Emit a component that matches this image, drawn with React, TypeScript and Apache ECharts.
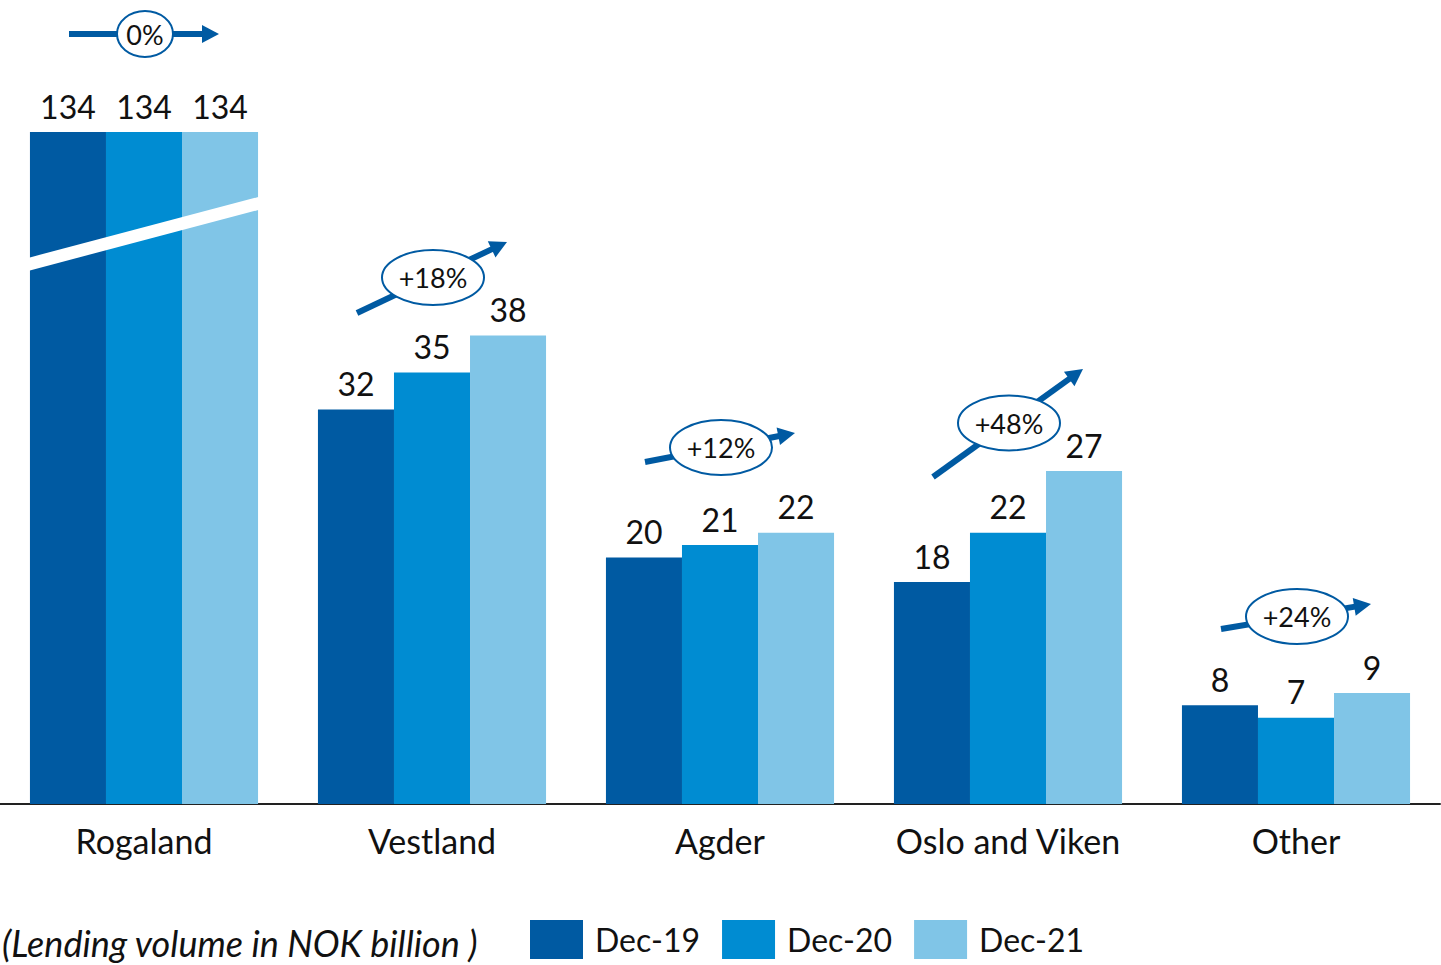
import { useEffect, useRef } from 'react';
import * as echarts from 'echarts';

// Lending volume per region (NOK billion)
const categories = ['Rogaland', 'Vestland', 'Agder', 'Oslo and Viken', 'Other'];
const seriesNames = ['Dec-19', 'Dec-20', 'Dec-21'];
const dec19 = [134, 32, 20, 18, 8];
const dec20 = [134, 35, 21, 22, 7];
const dec21 = [134, 38, 22, 27, 9];
const growthLabels = ['0%', '+18%', '+12%', '+48%', '+24%'];

// Value axis is cut between these values so the Rogaland bars fit
const BREAK_START = 46;
const BREAK_END = 126;
const BREAK_GAP = 0.5;

const COLORS = ['#005AA2', '#008CD2', '#80C5E7'];
const ARROW = '#005AA2';
const TEXT = '#111111';
const FONT = 'Lato, "Noto Sans", sans-serif';

// Growth-arrow layout: vertical centre and rise of each arrow, in pixels
const annotY = [34, 277.5, 447.5, 423, 616.5];
const annotRise = [0, 71, 29, 108, 25];

export default function App() {
  const ref = useRef<HTMLDivElement>(null);

  useEffect(() => {
    document.body.style.margin = '0';
    const chart = echarts.init(ref.current!, null, { renderer: 'svg' });

    const mkSeries = (name: string, data: number[], color: string) => ({
      type: 'bar',
      name,
      data,
      barGap: '0%',
      barCategoryGap: '20.8%',
      itemStyle: { color },
      label: {
        show: true,
        position: 'top',
        distance: 10,
        fontSize: 32,
        fontFamily: FONT,
        color: TEXT,
      },
    });

    chart.setOption({
      animation: false,
      grid: { left: 0, right: 1, top: 132, bottom: 161, containLabel: false },
      xAxis: {
        type: 'category',
        data: categories,
        axisTick: { show: false },
        axisLine: { lineStyle: { color: '#222', width: 2 } },
        axisLabel: {
          interval: 0,
          hideOverlap: false,
          fontSize: 34,
          fontFamily: FONT,
          color: TEXT,
          margin: 19,
        },
      },
      yAxis: {
        type: 'value',
        min: 0,
        max: 134,
        breaks: [{ start: BREAK_START, end: BREAK_END, gap: BREAK_GAP }],
        breakArea: { show: false },
        axisLine: { show: false },
        axisLabel: { show: false },
        axisTick: { show: false },
        splitLine: { show: false },
      },
      legend: {
        left: 530,
        top: 920,
        padding: 0,
        itemWidth: 53,
        itemHeight: 39,
        itemGap: 22,
        icon: 'rect',
        selectedMode: false,
        data: seriesNames,
        textStyle: { fontSize: 32, fontFamily: FONT, color: TEXT, padding: [0, 0, 0, 7] },
      },
      series: [
        mkSeries(seriesNames[0], dec19, COLORS[0]),
        mkSeries(seriesNames[1], dec20, COLORS[1]),
        mkSeries(seriesNames[2], dec21, COLORS[2]),
      ],
    });

    const graphics: any[] = [];

    // White slanted cut across the Rogaland bars, centred on the axis break
    const xc = chart.convertToPixel({ xAxisIndex: 0 }, categories[0]) as number;
    const yLo = chart.convertToPixel({ yAxisIndex: 0 }, BREAK_START) as number;
    const yHi = chart.convertToPixel({ yAxisIndex: 0 }, BREAK_END) as number;
    const yb = (yLo + yHi) / 2;
    const half = 116;
    const slope = 60 / 227;
    const th = 6.5;
    graphics.push({
      type: 'polygon',
      z: 50,
      shape: {
        points: [
          [xc - half, yb + half * slope - th],
          [xc + half, yb - half * slope - th],
          [xc + half, yb - half * slope + th],
          [xc - half, yb + half * slope + th],
        ],
      },
      style: { fill: '#ffffff' },
    });

    // Growth arrows with their percentage bubbles
    categories.forEach((c, i) => {
      const cx = chart.convertToPixel({ xAxisIndex: 0 }, c) as number;
      const cy = annotY[i];
      const rise = annotRise[i];
      const x0 = cx - 75;
      const y0 = cy + rise / 2;
      const x1 = cx + 75;
      const y1 = cy - rise / 2;
      const len = Math.hypot(x1 - x0, y1 - y0);
      const ux = (x1 - x0) / len;
      const uy = (y1 - y0) / len;
      const hl = 17;
      const hw = 9;
      const bx = x1 - ux * hl;
      const by = y1 - uy * hl;
      const rx = i === 0 ? 28 : 51;
      const ry = i === 0 ? 23 : 27.5;
      graphics.push({
        type: 'line',
        z: 60,
        shape: { x1: x0, y1: y0, x2: bx + ux, y2: by + uy },
        style: { stroke: ARROW, lineWidth: 6 },
      });
      graphics.push({
        type: 'polygon',
        z: 60,
        shape: {
          points: [
            [x1, y1],
            [bx - uy * hw, by + ux * hw],
            [bx + uy * hw, by - ux * hw],
          ],
        },
        style: { fill: ARROW },
      });
      graphics.push({
        type: 'ellipse',
        z: 61,
        shape: { cx: cx + 1, cy, rx, ry },
        style: { fill: '#ffffff', stroke: ARROW, lineWidth: 2 },
      });
      graphics.push({
        type: 'text',
        z: 62,
        x: cx + 1,
        y: cy,
        style: {
          text: growthLabels[i],
          fontSize: 27,
          fontFamily: FONT,
          fill: TEXT,
          align: 'center',
          verticalAlign: 'middle',
        },
      });
    });

    // Unit note in the bottom-left corner
    graphics.push({
      type: 'text',
      z: 62,
      x: 2,
      y: 943,
      style: {
        text: '(Lending volume in NOK billion )',
        fontSize: 36,
        fontStyle: 'italic',
        fontFamily: FONT,
        fill: TEXT,
        align: 'left',
        verticalAlign: 'middle',
      },
    });

    chart.setOption({ graphic: graphics });

    return () => chart.dispose();
  }, []);

  return (
    <div
      ref={ref}
      style={{ position: 'absolute', left: 0, top: 0, width: 1441, height: 965 }}
    />
  );
}
